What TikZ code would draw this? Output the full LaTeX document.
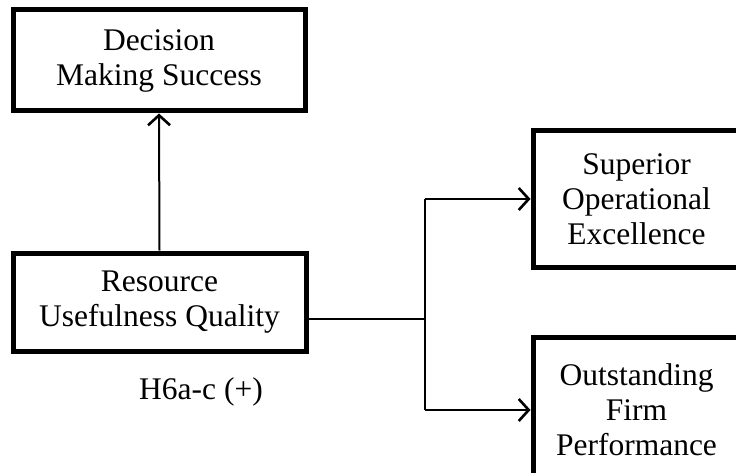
\documentclass[tikz,border=0pt]{standalone}
\usepackage{fontspec}
\setmainfont{Liberation Serif}
\usetikzlibrary{arrows.meta}
\begin{document}
\begin{tikzpicture}[x=1pt,y=1pt,
  box/.style={draw, line width=5pt, align=center, inner sep=0pt,
    font=\fontsize{31.5}{35}\selectfont},
  link/.style={line width=2pt},
  arr/.style={link, -{Straight Barb[length=10pt,width=22pt,line width=2.6pt]}},
  lbl/.style={font=\fontsize{31.5}{35}\selectfont}]
  \useasboundingbox (0,0) rectangle (736,472);
  \clip (0,0) rectangle (736,472);

  % construct boxes
  \node[box, minimum width=292pt, minimum height=101pt] (dms) at (159,411.5)
    {Decision\\Making Success};
  \node[box, minimum width=293pt, minimum height=98pt] (ruq) at (159.5,170)
    {Resource\\Usefulness Quality};
  \node[box, minimum width=207pt, minimum height=136pt] (soe) at (636.5,273)
    {Superior\\Operational\\Excellence};
  \node[box, minimum width=207pt, minimum height=146pt] (ofp) at (636.5,62)
    {Outstanding\\Firm\\Performance};

  % hypothesis label
  \node[lbl] (h6) at (201,80) {H6a-c (+)};

  % paths
  \coordinate (split) at (425,153);
  \draw[arr] (ruq.north) -- (dms.south);
  \draw[link] (ruq.east |- split) -- (split);
  \draw[link] (soe.west -| split) -- (ofp.west -| split);
  \draw[arr] (soe.west -| split) -- (soe.west);
  \draw[arr] (ofp.west -| split) -- (ofp.west);
\end{tikzpicture}
\end{document}
